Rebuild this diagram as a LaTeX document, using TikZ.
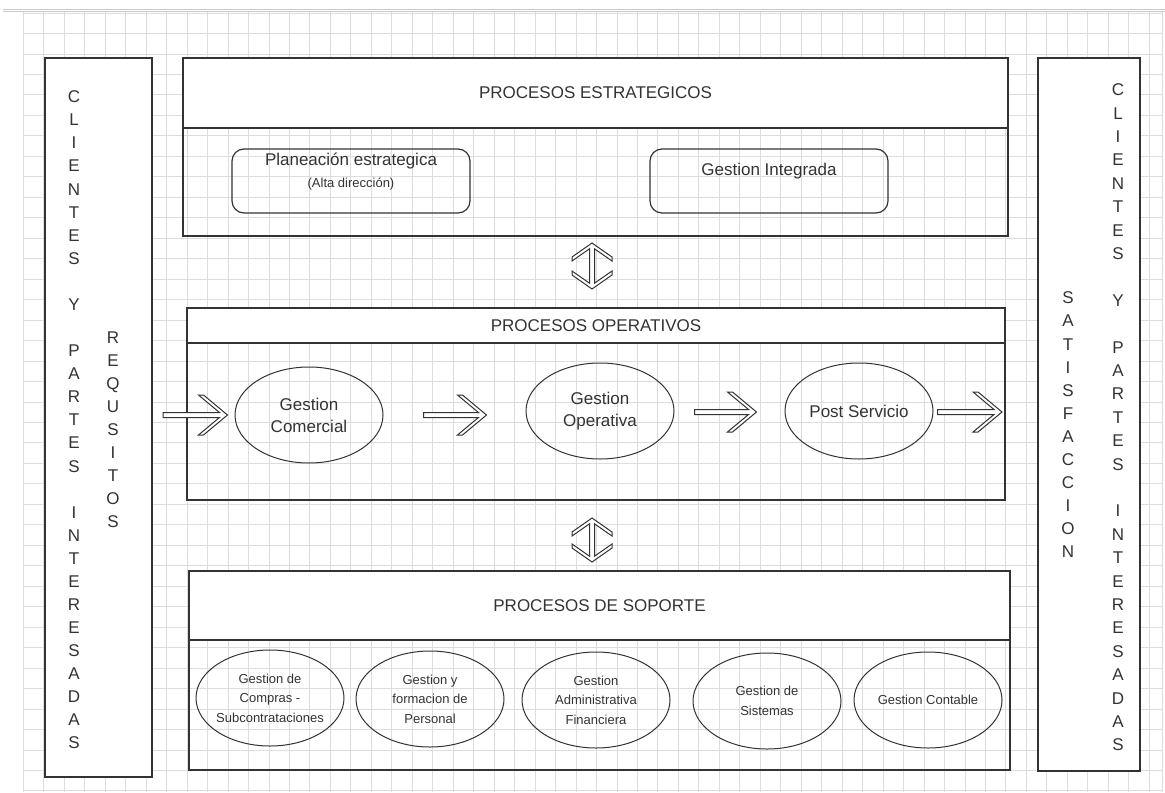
\documentclass[tikz,border=0pt]{standalone}
\usepackage{fontspec}
\setmainfont{Liberation Sans}
\usetikzlibrary{positioning,calc,shapes.geometric}
\definecolor{inkgray}{HTML}{333333}
\definecolor{gridgray}{HTML}{DDDDDD}

% hollow arrow, left to right
\newcommand{\hollowarrow}[2]{%
  \draw[arrowline] let \p1=#1, \p2=#2 in
    (\x1,\y1-1.25pt) -- (\x2-4pt,\y1-1.25pt) -- (\x2-14.5pt,\y1-10pt) -- (\x2-12pt,\y1-10pt)
    -- (\x2,\y1) -- (\x2-12pt,\y1+10pt) -- (\x2-14.5pt,\y1+10pt) -- (\x2-4pt,\y1+1.25pt)
    -- (\x1,\y1+1.25pt) -- cycle;}
% hollow double arrow, top to bottom
\newcommand{\hollowupdown}[2]{%
  \draw[arrowline] let \p1=#1, \p2=#2 in
    (\x1,\y1) -- (\x1+10pt,\y1-7pt) -- (\x1+10pt,\y1-9pt) -- (\x1+1.25pt,\y1-2.9pt)
    -- (\x1+1.25pt,\y2+2.9pt) -- (\x1+10pt,\y2+9pt) -- (\x1+10pt,\y2+7pt) -- (\x1,\y2)
    -- (\x1-10pt,\y2+7pt) -- (\x1-10pt,\y2+9pt) -- (\x1-1.25pt,\y2+2.9pt)
    -- (\x1-1.25pt,\y1-2.9pt) -- (\x1-10pt,\y1-9pt) -- (\x1-10pt,\y1-7pt) -- cycle;}

\begin{document}
\begin{tikzpicture}[x=0.5pt, y=-0.5pt,
    every node/.style={font=\fontsize{8.5}{11}\selectfont, text=inkgray},
    colbox/.style={draw=inkgray, line width=0.8pt, fill=white, inner sep=0pt, outer sep=0pt},
    headbox/.style={colbox},
    bodybox/.style={draw=inkgray, line width=0.8pt, inner sep=0pt, outer sep=0pt},
    procbox/.style={draw=inkgray, line width=0.6pt, rounded corners=6pt,
      minimum width=119pt, minimum height=32pt, align=center},
    proc/.style={ellipse, draw=inkgray, line width=0.5pt, inner sep=-2pt,
      minimum width=74pt, minimum height=48pt, align=center},
    supp/.style={proc, font=\fontsize{6.5}{9.75}\selectfont},
    letters/.style={align=center, inner sep=0pt},
    gridline/.style={draw=gridgray, line width=0.4pt},
    arrowline/.style={draw=inkgray, line width=0.5pt, fill=white, line join=miter}]

    \useasboundingbox[fill=white] (0,0) rectangle (1165,792);

    % Background grid
    \foreach \gx in {0,...,55}
        \draw[gridline] (23.3+\gx*20.47,12) -- (23.3+\gx*20.47,792);
    \foreach \gy in {0,...,38}
        \draw[gridline] (23.3,13+\gy*20.47) -- (1162,13+\gy*20.47);
    \draw[gridline] (1162,12) -- (1162,792);
    \draw[gridgray!80!gray, line width=0.5pt] (3,9.5) -- (1165,9.5) (3,12) -- (1165,12);

    % Side columns
    \node[colbox, minimum width=53.5pt, minimum height=359.5pt] (lbox) at (98.5,417.5) {};
    \node[colbox, minimum width=51pt, minimum height=356.5pt] (rbox) at (1089,414.5) {};

    \node[letters, font=\fontsize{8.5}{11.54}\selectfont] (cliL) at (74,420)
        {C\\L\\I\\E\\N\\T\\E\\S\\[11.54pt]Y\\[11.54pt]P\\A\\R\\T\\E\\S\\[11.54pt]I\\N\\T\\E\\R\\E\\S\\A\\D\\A\\S};
    \node[letters, font=\fontsize{8.5}{11.5}\selectfont] (req) at (113,430)
        {R\\E\\Q\\U\\S\\I\\T\\O\\S};
    \node[letters, font=\fontsize{8.5}{11.55}\selectfont] (sat) at (1068,425)
        {S\\A\\T\\I\\S\\F\\A\\C\\C\\I\\O\\N};
    \node[letters, font=\fontsize{8.5}{11.7}\selectfont] (cliR) at (1118,417.5)
        {C\\L\\I\\E\\N\\T\\E\\S\\[11.7pt]Y\\[11.7pt]P\\A\\R\\T\\E\\S\\[11.7pt]I\\N\\T\\E\\R\\E\\S\\A\\D\\A\\S};

    % Strategic processes
    \node[headbox, minimum width=412.5pt, minimum height=35pt] (estrH) at (595.5,93) {PROCESOS ESTRATEGICOS};
    \node[bodybox, minimum width=412.5pt, minimum height=54pt, below=0pt of estrH] (estr) {};
    \node[procbox, inner ysep=0pt, text depth=10.3pt] (plan) at (351,181)
        {Planeación estrategica\\{\fontsize{6.5}{11}\selectfont (Alta dirección)}};
    \node[procbox, text depth=12pt] (integ) at (769,181) {Gestion Integrada};

    % Operative processes
    \node[headbox, minimum width=409pt, minimum height=17.5pt] (operH) at (596,325.5) {PROCESOS OPERATIVOS};
    \node[bodybox, minimum width=409pt, minimum height=78.5pt, below=0pt of operH] (oper) {};
    \node[proc] (com) at (309,415) {Gestion\\Comercial};
    \node[proc] (ope) at (600,411) {Gestion\\Operativa};
    \node[proc] (post) at (859,411) {Post Servicio};

    % Support processes
    \node[headbox, minimum width=410.5pt, minimum height=34.5pt] (sopH) at (599.5,605.5) {PROCESOS DE SOPORTE};
    \node[bodybox, minimum width=410.5pt, minimum height=65pt, below=0pt of sopH] (sop) {};
    \node[supp] (comp) at (270,698) {Gestion de\\Compras -\\Subcontrataciones};
    \node[supp] (pers) at (430,699) {Gestion y\\formacion de\\Personal};
    \node[supp] (adm) at (596,700) {Gestion\\Administrativa\\Financiera};
    \node[supp] (sis) at (767,701) {Gestion de\\Sistemas};
    \node[supp] (cont) at (928,700) {Gestion Contable};

    % Flow arrows
    \hollowarrow{($(lbox.east |- com.west)+(11,0)$)}{($(com.west)+(-7,0)$)}
    \hollowarrow{($(com.east)+(40,0)$)}{($(ope.west |- com.west)+(-39,0)$)}
    \hollowarrow{($(ope.east)+(20,1)$)}{($(post.west)+(-28,1)$)}
    \hollowarrow{($(post.east)+(4,1)$)}{($(oper.east |- post.east)+(-3,1)$)}

    % Links between levels
    \hollowupdown{($(estr.south)+(-3.5,7)$)}{($(operH.north)+(-4,-19)$)}
    \hollowupdown{($(oper.south)+(-4,18)$)}{($(sopH.north)+(-7,-9)$)}
\end{tikzpicture}
\end{document}
